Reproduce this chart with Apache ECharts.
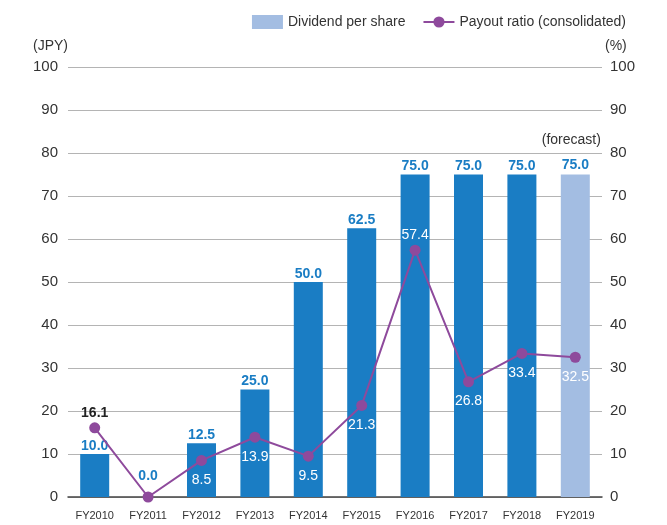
<!DOCTYPE html>
<html>
<head>
<meta charset="utf-8">
<script src="https://cdn.jsdelivr.net/npm/echarts@6/dist/echarts.min.js"></script>
<style>
  html, body { margin: 0; padding: 0; background: #fff; }
  #chart { width: 667px; height: 525px; }
</style>
</head>
<body>
<div id="chart"></div>
<script>
// 数据
const years = ['FY2010', 'FY2011', 'FY2012', 'FY2013', 'FY2014', 'FY2015', 'FY2016', 'FY2017', 'FY2018', 'FY2019'];
const dividend = [10.0, 0.0, 12.5, 25.0, 50.0, 62.5, 75.0, 75.0, 75.0, 75.0];
const payout = [16.1, 0.0, 8.5, 13.9, 9.5, 21.3, 57.4, 26.8, 33.4, 32.5];
const forecastIndex = 9;

const FONT = '"Liberation Sans", Arial, sans-serif';
const BLUE = '#1a7dc4';
const LIGHT = '#a3bde2';
const PURPLE = '#8e4a9c';

function chart () {
  const myChart = echarts.init(document.getElementById('chart'));

  // 柱子数据（最后一年为预测值，颜色变浅）
  const barData = dividend.map(function (v, i) {
    if (i === forecastIndex) {
      return {
        value: v,
        itemStyle: { color: LIGHT },
        label: {
          formatter: '{f|(forecast)}\n{v|' + v.toFixed(1) + '}',
          rich: {
            f: { fontFamily: FONT, fontSize: 14, color: '#333', fontWeight: 'normal', lineHeight: 34, padding: [0, 0, 0, -8] },
            v: { fontFamily: FONT, fontSize: 14, color: BLUE, fontWeight: 'bold', lineHeight: 16 }
          }
        }
      };
    }
    if (v === 0) {
      // 0 值标签抬高，避开折线的点
      return { value: v, label: { distance: 14 } };
    }
    return v;
  });

  // 折线标签：大部分在点下方白字，个别在上方
  const lineData = payout.map(function (v, i) {
    if (i === 0) {
      return { value: v, label: { position: 'top', distance: 2, color: '#222', fontWeight: 'bold' } };
    }
    if (i === 6) {
      return { value: v, label: { position: 'top', distance: 3 } };
    }
    if (i === 1) {
      return { value: v, label: { show: false } };
    }
    return v;
  });

  const option = {
    animation: false,
    textStyle: { fontFamily: FONT },
    legend: {
      top: 10,
      right: 36,
      itemWidth: 31,
      itemHeight: 14,
      itemGap: 17,
      textStyle: { fontFamily: FONT, fontSize: 14, color: '#333' },
      data: [
        { name: 'Dividend per share', icon: 'rect', itemStyle: { color: LIGHT } },
        { name: 'Payout ratio (consolidated)' }
      ]
    },
    grid: {
      left: 68,
      right: 65,
      top: 67,
      bottom: 28
    },
    xAxis: {
      type: 'category',
      data: years,
      axisLine: { show: true, lineStyle: { color: '#444', width: 1.5 } },
      axisTick: { show: false },
      axisLabel: { fontFamily: FONT, fontSize: 11, color: '#333', margin: 13 }
    },
    yAxis: [
      {
        type: 'value',
        min: 0,
        max: 100,
        interval: 10,
        name: '(JPY)',
        nameLocation: 'end',
        nameGap: 14,
        nameTextStyle: { fontFamily: FONT, fontSize: 14, color: '#333', align: 'right' },
        axisLine: { show: false },
        axisTick: { show: false },
        axisLabel: { fontFamily: FONT, fontSize: 15, color: '#333', margin: 10 },
        splitLine: { lineStyle: { color: '#b4b4b4', width: 1 } }
      },
      {
        type: 'value',
        min: 0,
        max: 100,
        interval: 10,
        name: '(%)',
        nameLocation: 'end',
        nameGap: 14,
        nameTextStyle: { fontFamily: FONT, fontSize: 14, color: '#333', align: 'left', padding: [0, 0, 0, 3] },
        axisLine: { show: false },
        axisTick: { show: false },
        axisLabel: { fontFamily: FONT, fontSize: 15, color: '#333', margin: 8 },
        splitLine: { show: false }
      }
    ],
    series: [
      {
        name: 'Dividend per share',
        type: 'bar',
        barWidth: 29,
        yAxisIndex: 0,
        itemStyle: { color: BLUE },
        label: {
          show: true,
          position: 'top',
          distance: 1,
          fontFamily: FONT,
          fontSize: 14,
          fontWeight: 'bold',
          color: BLUE,
          formatter: function (p) { return p.value.toFixed(1); }
        },
        data: barData
      },
      {
        name: 'Payout ratio (consolidated)',
        type: 'line',
        yAxisIndex: 1,
        symbol: 'circle',
        symbolSize: 11,
        z: 5,
        lineStyle: { color: PURPLE, width: 2 },
        itemStyle: { color: PURPLE },
        label: {
          show: true,
          position: 'bottom',
          distance: 7,
          fontFamily: FONT,
          fontSize: 14,
          color: '#fff',
          formatter: function (p) { return p.value.toFixed(1); }
        },
        data: lineData
      }
    ]
  };

  myChart.setOption(option);
  window.addEventListener('resize', function () {
    myChart.resize();
  });
}

chart();
</script>
</body>
</html>
